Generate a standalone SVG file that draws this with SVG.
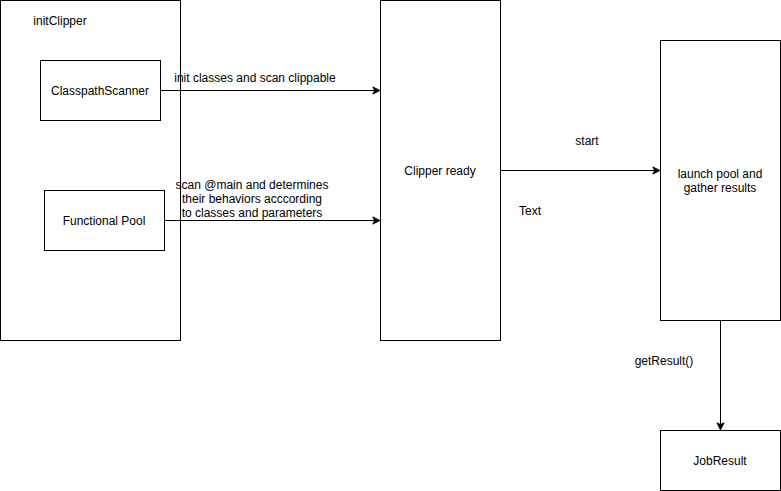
<svg xmlns="http://www.w3.org/2000/svg" width="781" height="491" viewBox="0 0 781 491">
<style>
.box{fill:#fff;stroke:#000;stroke-width:1}
.t{font-family:"Liberation Sans",Arial,sans-serif;font-size:12px;fill:#000;text-anchor:middle}
.e{fill:none;stroke:#000;stroke-width:1}
</style>
<defs>
<marker id="arr" viewBox="0 0 10 10" refX="9" refY="5" markerWidth="9" markerHeight="9" markerUnits="userSpaceOnUse" orient="auto">
<path d="M1,1 L9,5 L1,9 L3,5 Z" fill="#000" stroke="#000" stroke-width="1"/>
</marker>
</defs>
<rect width="781" height="491" fill="#fff"/>
<g id="initClipper">
<rect class="box" x="0.5" y="0.5" width="180" height="340"/>
<text class="t" x="60" y="25">initClipper</text>
</g>
<g id="clipperReady">
<rect class="box" x="380.5" y="0.5" width="120" height="340"/>
<text class="t" x="440" y="175">Clipper ready</text>
</g>
<g id="launch">
<rect class="box" x="660.5" y="40.5" width="120" height="280"/>
<text class="t" x="720" y="178">launch pool and</text>
<text class="t" x="720" y="192">gather results</text>
</g>
<g id="jobResult">
<rect class="box" x="660.5" y="430.5" width="120" height="60"/>
<text class="t" x="720" y="465">JobResult</text>
</g>
<g id="connectors">
<path class="e" d="M160.5,90.5 L380,90.5" marker-end="url(#arr)"/>
<path class="e" d="M164.5,220.5 L380,220.5" marker-end="url(#arr)"/>
<path class="e" d="M500.5,170.5 L660,170.5" marker-end="url(#arr)"/>
<path class="e" d="M720.5,320.5 L720.5,430" marker-end="url(#arr)"/>
<text class="t" x="255" y="82">init classes and scan clippable</text>
<text class="t" x="252" y="189">scan @main and determines</text>
<text class="t" x="252" y="203">their behaviors acccording</text>
<text class="t" x="252" y="217">to classes and parameters</text>
<text class="t" x="587" y="145">start</text>
<text class="t" x="664" y="365">getResult()</text>
</g>
<g id="textLabel">
<text class="t" x="530" y="215">Text</text>
</g>
<g id="classpathScanner">
<rect class="box" x="40.5" y="60.5" width="120" height="60"/>
<text class="t" x="100" y="95">ClasspathScanner</text>
</g>
<g id="functionalPool">
<rect class="box" x="44.5" y="190.5" width="120" height="60"/>
<text class="t" x="104" y="225">Functional Pool</text>
</g>
</svg>
